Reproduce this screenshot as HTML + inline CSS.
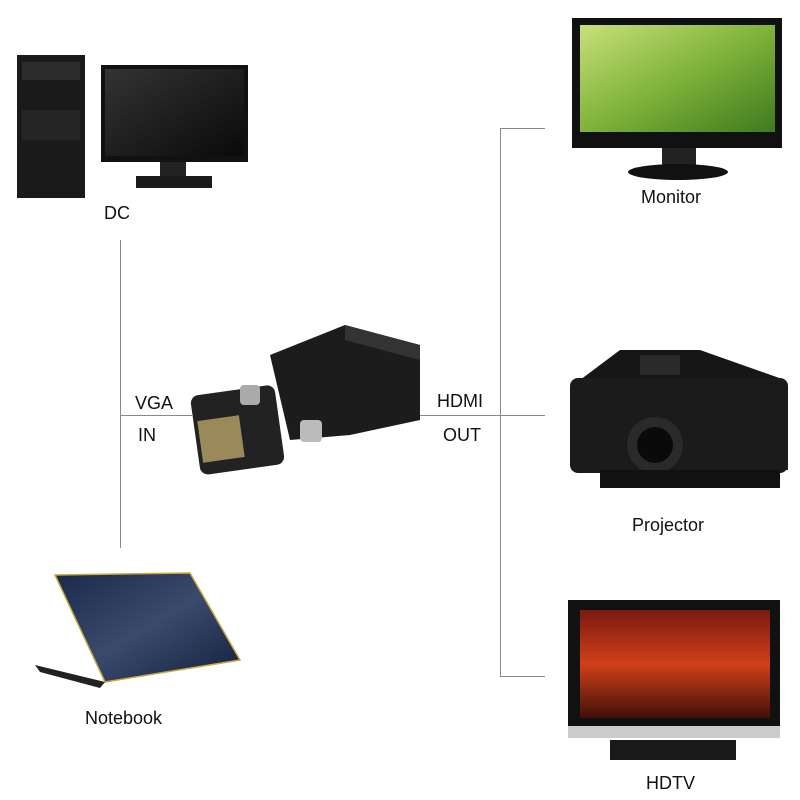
<!DOCTYPE html>
<html><head><meta charset="utf-8"><style>
html,body{margin:0;padding:0;background:#fff;}
svg{display:block}
text{font-family:"Liberation Sans",sans-serif;fill:#111;}
</style></head><body>
<svg width="800" height="800" viewBox="0 0 800 800" xmlns="http://www.w3.org/2000/svg">
<defs>
<linearGradient id="grn" x1="0" y1="0" x2="1" y2="1"><stop offset="0" stop-color="#c8e07a"/><stop offset="0.5" stop-color="#7fb33a"/><stop offset="1" stop-color="#3f7a1e"/></linearGradient>
<linearGradient id="red" x1="0" y1="0" x2="0" y2="1"><stop offset="0" stop-color="#7a1a10"/><stop offset="0.5" stop-color="#d0401a"/><stop offset="1" stop-color="#401008"/></linearGradient>
<linearGradient id="lap" x1="0" y1="0" x2="1" y2="1"><stop offset="0" stop-color="#1a2a4a"/><stop offset="0.5" stop-color="#3a4a6a"/><stop offset="1" stop-color="#142040"/></linearGradient>
<linearGradient id="mon" x1="0" y1="0" x2="1" y2="1"><stop offset="0" stop-color="#333"/><stop offset="1" stop-color="#0a0a0a"/></linearGradient>
</defs>
<rect width="800" height="800" fill="#fff"/>
<!-- lines -->
<g stroke="#888" stroke-width="1" fill="none">
<line x1="120.5" y1="240" x2="120.5" y2="548"/>
<line x1="120" y1="415.5" x2="192" y2="415.5"/>
<line x1="420" y1="415.5" x2="545" y2="415.5"/>
<line x1="500.5" y1="128" x2="500.5" y2="676"/>
<line x1="500" y1="128.5" x2="545" y2="128.5"/>
<line x1="500" y1="676.5" x2="545" y2="676.5"/>
</g>
<!-- PC tower -->
<rect x="17" y="55" width="68" height="143" fill="#1a1a1a"/>
<rect x="22" y="62" width="58" height="18" fill="#2c2c2c"/>
<rect x="22" y="110" width="58" height="30" fill="#252525"/>
<!-- PC monitor -->
<rect x="101" y="65" width="147" height="97" fill="#111"/>
<rect x="105" y="69" width="139" height="87" fill="url(#mon)"/>
<rect x="160" y="162" width="26" height="16" fill="#222"/>
<rect x="136" y="176" width="76" height="12" fill="#1a1a1a"/>
<text x="104" y="219" font-size="18">DC</text>
<!-- adapter -->
<polygon points="270,355 345,325 420,345 420,420 350,435 290,440" fill="#1c1c1c"/>
<polygon points="345,325 420,345 420,360 345,340" fill="#333"/>
<rect x="195" y="390" width="85" height="80" rx="8" fill="#222" transform="rotate(-8 237 430)"/>
<rect x="200" y="418" width="42" height="42" fill="#9a8a5a" transform="rotate(-8 221 439)"/>
<rect x="300" y="420" width="22" height="22" rx="4" fill="#bbb"/>
<rect x="240" y="385" width="20" height="20" rx="4" fill="#aaa"/>
<text x="135" y="409" font-size="18">VGA</text>
<text x="138" y="441" font-size="18">IN</text>
<text x="437" y="407" font-size="18">HDMI</text>
<text x="443" y="441" font-size="18">OUT</text>
<!-- right monitor -->
<rect x="572" y="18" width="210" height="130" fill="#111"/>
<rect x="580" y="25" width="195" height="107" fill="url(#grn)"/>
<rect x="662" y="148" width="34" height="18" fill="#222"/>
<ellipse cx="678" cy="172" rx="50" ry="8" fill="#111"/>
<text x="641" y="203" font-size="18">Monitor</text>
<!-- projector -->
<polygon points="580,380 620,350 700,350 785,380 788,470 580,470" fill="#161616"/>
<rect x="570" y="378" width="218" height="95" rx="8" fill="#1b1b1b"/>
<circle cx="655" cy="445" r="28" fill="#2a2a2a"/>
<circle cx="655" cy="445" r="18" fill="#0a0a0a"/>
<rect x="640" y="355" width="40" height="20" fill="#2a2a2a"/>
<rect x="600" y="470" width="180" height="18" fill="#111"/>
<text x="632" y="531" font-size="18">Projector</text>
<!-- HDTV -->
<rect x="568" y="600" width="212" height="138" fill="#111"/>
<rect x="580" y="610" width="190" height="108" fill="url(#red)"/>
<rect x="568" y="726" width="212" height="12" fill="#ccc"/>
<rect x="610" y="740" width="126" height="20" fill="#1a1a1a"/>
<text x="646" y="789" font-size="18">HDTV</text>
<!-- notebook -->
<polygon points="55,575 190,573 240,660 105,682" fill="url(#lap)" stroke="#c8a840" stroke-width="1.5"/>
<polygon points="35,665 105,682 100,688 40,672" fill="#222"/>
<text x="85" y="724" font-size="18">Notebook</text>
</svg>
</body></html>
